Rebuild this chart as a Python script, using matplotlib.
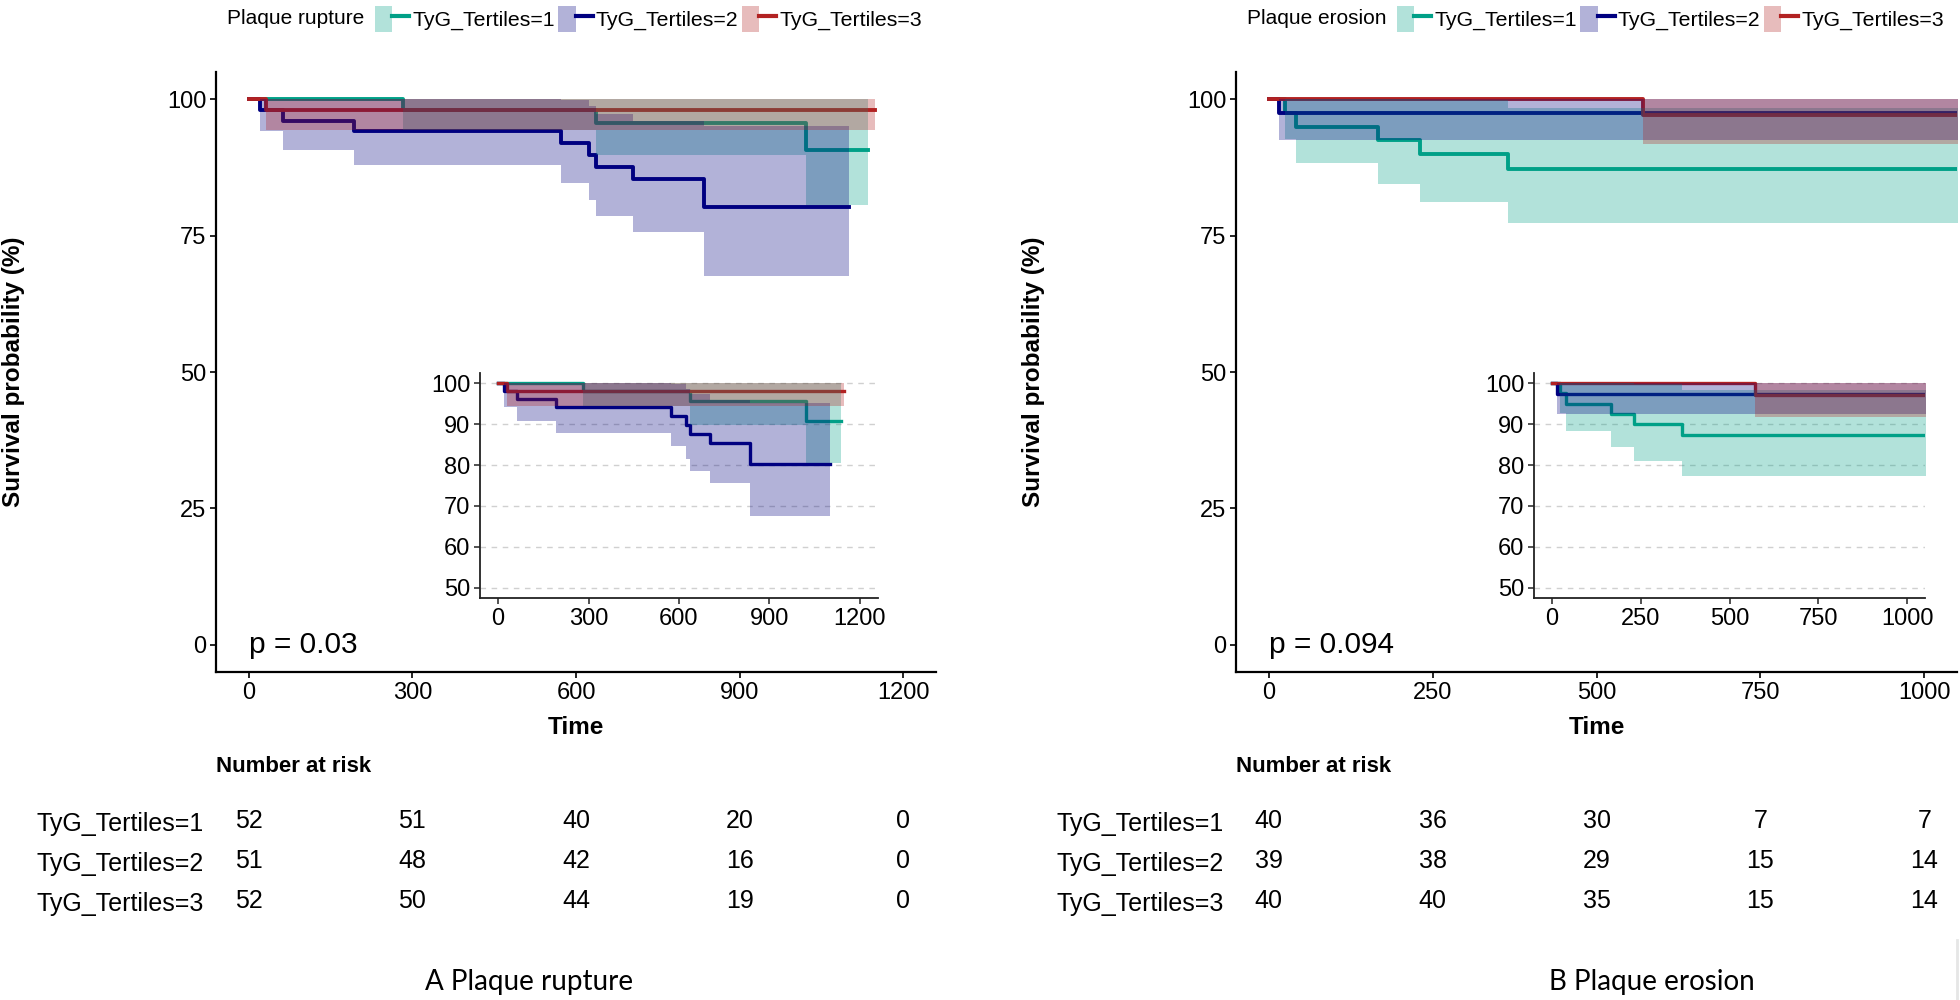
import matplotlib
matplotlib.use("Agg")
import matplotlib.pyplot as plt
from matplotlib.patches import Patch
from matplotlib.lines import Line2D
from matplotlib.legend_handler import HandlerTuple

plt.rcParams['font.family'] = ['Liberation Sans', 'DejaVu Sans']

W, H = 1960, 1000

# ---- data: Plaque rupture (Kaplan-Meier steps) ----
rup_t1 = [0, 283, 636, 1021, 1136]
rup_s1 = [100, 98.1, 95.6, 90.7, 90.7]
rup_lo1 = [100, 94.4, 89.7, 80.6, 80.6]
rup_hi1 = [100, 100, 100, 100, 100]

rup_t2 = [0, 20, 62, 193, 573, 624, 636, 704, 835, 1101]
rup_s2 = [100, 98.0, 96.1, 94.1, 91.9, 89.7, 87.6, 85.4, 80.3, 80.3]
rup_lo2 = [100, 94.2, 90.7, 87.9, 84.6, 81.5, 78.6, 75.7, 67.6, 67.6]
rup_hi2 = [100, 100, 100, 100, 99.8, 98.7, 97.3, 96.0, 95.1, 95.1]

rup_t3 = [0, 31, 1148]
rup_s3 = [100, 98.1, 98.1]
rup_lo3 = [100, 94.4, 94.4]
rup_hi3 = [100, 100, 100]

rup_risk_t = [0, 300, 600, 900, 1200]
rup_risk = [[52, 51, 40, 20, 0],
            [51, 48, 42, 16, 0],
            [52, 50, 44, 19, 0]]

# ---- data: Plaque erosion ----
ero_t1 = [0, 24, 41, 167, 231, 365, 1080]
ero_s1 = [100, 97.5, 95.0, 92.5, 90.0, 87.3, 87.3]
ero_lo1 = [100, 92.7, 88.4, 84.5, 81.1, 77.3, 77.3]
ero_hi1 = [100, 100, 100, 100, 99.8, 98.4, 98.4]

ero_t2 = [0, 15, 1080]
ero_s2 = [100, 97.4, 97.4]
ero_lo2 = [100, 92.6, 92.6]
ero_hi2 = [100, 100, 100]

ero_t3 = [0, 571, 1080]
ero_s3 = [100, 97.2, 97.2]
ero_lo3 = [100, 91.8, 91.8]
ero_hi3 = [100, 100, 100]

ero_risk_t = [0, 250, 500, 750, 1000]
ero_risk = [[40, 36, 30, 7, 7],
            [39, 38, 29, 15, 14],
            [40, 40, 35, 15, 14]]

groups = ['TyG_Tertiles=1', 'TyG_Tertiles=2', 'TyG_Tertiles=3']
colors = ['#00A087', '#000080', '#B22222']


def px_rect(left, top, right, bottom):
    return [left / W, 1 - bottom / H, (right - left) / W, (bottom - top) / H]


def draw_curves(ax, curves, lw):
    for (t, s, lo, hi), c in zip(curves, colors):
        ax.step(t, s, where='post', color=c, lw=lw, zorder=2)
    for (t, s, lo, hi), c in zip(curves, colors):
        ax.fill_between(t, lo, hi, step='post', color=c, alpha=0.3,
                        lw=0, zorder=3)


def style_main(ax, xlim, xticks):
    ax.set_xlim(*xlim)
    ax.set_ylim(-5, 105)
    ax.set_xticks(xticks)
    ax.set_yticks([0, 25, 50, 75, 100])
    for sp in ['top', 'right']:
        ax.spines[sp].set_visible(False)
    for sp in ['left', 'bottom']:
        ax.spines[sp].set_linewidth(1.6)
    ax.tick_params(labelsize=17, length=4, width=1.2, pad=3)


def style_inset(ax, xlim, xticks):
    ax.set_xlim(*xlim)
    ax.set_ylim(47.5, 102.5)
    ax.set_xticks(xticks)
    ax.set_yticks([50, 60, 70, 80, 90, 100])
    ax.grid(axis='y', color='#D0D0D0', lw=1, ls=(0, (4, 4)))
    ax.set_axisbelow(True)
    for sp in ['top', 'right']:
        ax.spines[sp].set_visible(False)
    for sp in ['left', 'bottom']:
        ax.spines[sp].set_linewidth(1.3)
        ax.spines[sp].set_color('#222222')
    ax.tick_params(labelsize=17, length=4, width=1.1, pad=3, color='#222222')


def risk_table(ax, xlim, times, risk):
    ax.set_xlim(*xlim)
    ax.set_ylim(-0.5, 2.5)
    for i, row in enumerate(risk):
        for t, n in zip(times, row):
            ax.text(t, 2 - i, str(n), ha='center', va='center', fontsize=18)
    ax.set_yticks([2, 1, 0])
    ax.set_yticklabels(groups, fontsize=18)
    ax.tick_params(axis='y', length=0, pad=9)
    ax.set_xticks([])
    for sp in ax.spines.values():
        sp.set_visible(False)
    ax.text(0, 1 + 34 / 120, 'Number at risk', transform=ax.transAxes,
            ha='left', va='center', fontsize=16, fontweight='bold')


def legend(fig, title, title_x, box_x):
    handles = [(Patch(facecolor=c, alpha=0.3, edgecolor='none'),
                Line2D([], [], color=c, lw=3)) for c in colors]
    fig.text(title_x / W, 1 - 19 / H, title, ha='left', va='center', fontsize=15)
    fig.legend(handles, groups, handler_map={tuple: HandlerTuple(ndivide=None)},
               loc='center left', bbox_to_anchor=(box_x / W, 1 - 19 / H),
               ncol=3, frameon=False, fontsize=15.3, handlelength=1.62,
               handleheight=1.57, handletextpad=0.15, columnspacing=0.15,
               borderpad=0, borderaxespad=0)


fig = plt.figure(figsize=(W / 100, H / 100), dpi=100)

panels = [
    dict(curves=[(rup_t1, rup_s1, rup_lo1, rup_hi1),
                 (rup_t2, rup_s2, rup_lo2, rup_hi2),
                 (rup_t3, rup_s3, rup_lo3, rup_hi3)],
         xlim=(-60, 1260), xticks=[0, 300, 600, 900, 1200],
         main=(216, 72, 936, 672), inset=(480, 373, 878, 598),
         risk=(216, 801, 936, 921), risk_t=rup_risk_t, risk_n=rup_risk,
         pval='p = 0.03', ylab_x=14, title='Plaque rupture', title_x=227,
         box_x=375, caption='A Plaque rupture', cap_x=529),
    dict(curves=[(ero_t1, ero_s1, ero_lo1, ero_hi1),
                 (ero_t2, ero_s2, ero_lo2, ero_hi2),
                 (ero_t3, ero_s3, ero_lo3, ero_hi3)],
         xlim=(-50, 1050), xticks=[0, 250, 500, 750, 1000],
         main=(1236, 72, 1957, 672), inset=(1534, 373, 1925, 598),
         risk=(1236, 801, 1957, 921), risk_t=ero_risk_t, risk_n=ero_risk,
         pval='p = 0.094', ylab_x=1033, title='Plaque erosion', title_x=1247,
         box_x=1397, caption='B Plaque erosion', cap_x=1652),
]

for p in panels:
    ax = fig.add_axes(px_rect(*p['main']))
    draw_curves(ax, p['curves'], lw=2.8)
    style_main(ax, p['xlim'], p['xticks'])
    ax.text(0, 0, p['pval'], ha='left', va='center', fontsize=21.5)
    ax.text(0.5, -(727 - 672) / 600, 'Time', transform=ax.transAxes,
            ha='center', va='center', fontsize=17.5, fontweight='bold')
    fig.text(p['ylab_x'] / W, 1 - 372 / H, 'Survival probability (%)',
             rotation=90, ha='center', va='center', fontsize=17.5,
             fontweight='bold')

    axi = fig.add_axes(px_rect(*p['inset']))
    draw_curves(axi, p['curves'], lw=2.4)
    style_inset(axi, p['xlim'], p['xticks'])

    axr = fig.add_axes(px_rect(*p['risk']))
    risk_table(axr, p['xlim'], p['risk_t'], p['risk_n'])

    legend(fig, p['title'], p['title_x'], p['box_x'])
    fig.text(p['cap_x'] / W, 1 - 982 / H, p['caption'], ha='center',
             va='center', fontsize=20, family=['Lato', 'DejaVu Sans'])

fig.add_artist(Line2D([1957 / W, 1957 / W], [0, 60 / H], color='#E6E6E6', lw=2))

fig.savefig('out.png', dpi=100)
